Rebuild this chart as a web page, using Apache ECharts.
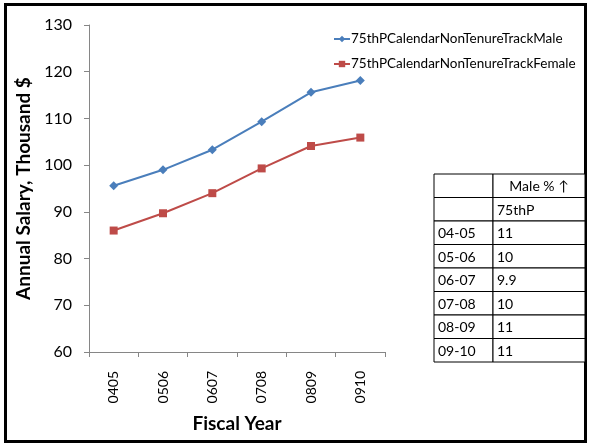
<!DOCTYPE html>
<html><head><meta charset="utf-8">
<script src="https://cdn.jsdelivr.net/npm/echarts@6/dist/echarts.min.js"></script>
<style>html,body{margin:0;padding:0;background:#fff}#c{width:589px;height:445px}</style>
</head><body><div id="c"></div>
<script>
var categories = ['0405','0506','0607','0708','0809','0910'];
var maleValues = [95.6, 99.0, 103.3, 109.3, 115.6, 118.1];
var femaleValues = [86.0, 89.7, 94.0, 99.3, 104.1, 105.9];
var seriesNames = ['75thPCalendarNonTenureTrackMale', '75thPCalendarNonTenureTrackFemale'];
var tableHeader = ['', 'Male % \u2191'];
var tableSubHeader = ['', '75thP'];
var tableYears = ['04-05','05-06','06-07','07-08','08-09','09-10'];
var tablePct = ['11','10','9.9','10','11','11'];

var FONT = 'Lato, "Open Sans", sans-serif';
var chart = echarts.init(document.getElementById('c'), null, {renderer:'canvas'});

var rows = [tableHeader, tableSubHeader].concat(tableYears.map(function(y,i){return [y, tablePct[i]];}));
var tX = 434, tY = 174, colW = [59, 92], rowH = 23.5;
var tableEls = [];
rows.forEach(function(r, i){
  var x = tX;
  r.forEach(function(cell, j){
    tableEls.push({type:'rect', shape:{x:x, y:tY + i*rowH, width:colW[j], height:rowH},
      style:{fill:'#fff', stroke:'#000', lineWidth:1}});
    var centered = (i === 0);
    tableEls.push({type:'text', x: centered ? x + colW[j]/2 : x + 4, y:tY + i*rowH + rowH/2 + 1,
      style:{text:cell, fill:'#000', font:'14px ' + FONT, textVerticalAlign:'middle', textAlign: centered ? 'center' : 'left'}});
    x += colW[j];
  });
});

chart.setOption({
  animation:false,
  backgroundColor:'#fff',
  textStyle:{fontFamily:FONT},
  grid:{left:89, right:204, top:25, bottom:93},
  legend:{
    orient:'vertical', left:328, top:27, itemGap:11, itemWidth:16, itemHeight:8,
    textStyle:{fontSize:13.5, color:'#000', fontFamily:FONT, padding:[0,0,0,-4]},
    data:seriesNames
  },
  xAxis:{
    type:'category', data:categories, boundaryGap:true,
    axisLine:{lineStyle:{color:'#868686'}},
    axisTick:{show:true, length:5, lineStyle:{color:'#868686'}},
    axisLabel:{rotate:90, fontSize:14, color:'#000', margin:19},
    name:'Fiscal Year', nameLocation:'middle', nameGap:62,
    nameTextStyle:{fontSize:19, fontWeight:'bold', color:'#000'}
  },
  yAxis:{
    type:'value', min:60, max:130, interval:10,
    axisLine:{show:true, lineStyle:{color:'#868686'}},
    axisTick:{show:true, length:5, lineStyle:{color:'#868686'}},
    axisLabel:{fontSize:16, color:'#000', margin:17},
    splitLine:{show:false},
    name:'Annual Salary, Thousand $', nameLocation:'middle', nameGap:50, nameRotate:90,
    nameTextStyle:{fontSize:19, fontWeight:'bold', color:'#000'}
  },
  series:[
    {name:seriesNames[0], type:'line', data:maleValues, symbol:'diamond', symbolSize:9,
      itemStyle:{color:'#4a7ebb'}, lineStyle:{color:'#4a7ebb', width:2}},
    {name:seriesNames[1], type:'line', data:femaleValues, symbol:'rect', symbolSize:8,
      itemStyle:{color:'#be4b48'}, lineStyle:{color:'#be4b48', width:2}}
  ],
  graphic:[
    {type:'rect', shape:{x:5.5, y:4.5, width:580, height:437}, style:{fill:'none', stroke:'#000', lineWidth:3}, z:-1},
    {type:'group', children:tableEls}
  ]
});
</script></body></html>
